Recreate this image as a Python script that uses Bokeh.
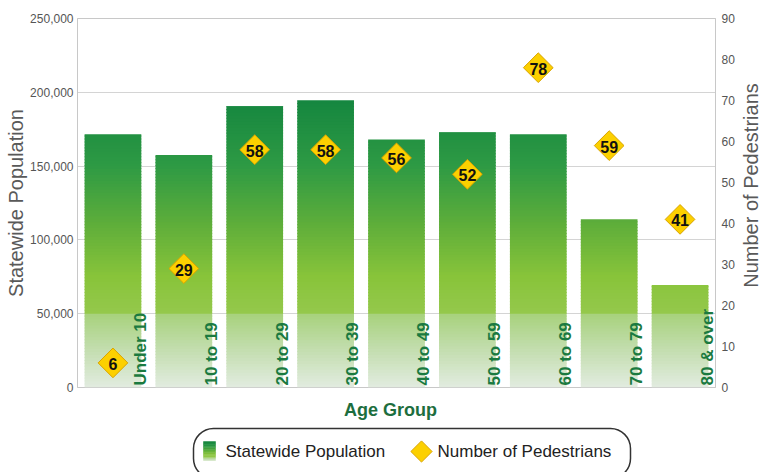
import numpy as np
from bokeh.plotting import figure
from bokeh.layouts import column, row
from bokeh.models import (ColumnDataSource, Range1d, LinearAxis, NumeralTickFormatter,
                          FixedTicker, FactorRange, Quad)
from bokeh.transform import dodge
from bokeh.core.properties import value
from bokeh.embed import file_html
from bokeh.resources import INLINE

# ---- data ----
age_groups = ["Under 10", "10 to 19", "20 to 29", "30 to 39", "40 to 49",
              "50 to 59", "60 to 69", "70 to 79", "80 & over"]
population = [171500, 157500, 190500, 194500, 168000, 173000, 171500, 114000, 69500]
pedestrians = [6, 29, 58, 58, 56, 52, 78, 59, 41]
pop_ticks = [0, 50000, 100000, 150000, 200000, 250000]
ped_ticks = [0, 10, 20, 30, 40, 50, 60, 70, 80, 90]
series_names = ["Statewide Population", "Number of Pedestrians"]
x_title = "Age Group"
left_title = "Statewide Population"
right_title = "Number of Pedestrians"

FONT = "Liberation Sans"
TOTAL_W, TOTAL_H = 761, 472
TITLE_W = 22
W = TOTAL_W - TITLE_W
H_MAIN = 397
H_LEG = TOTAL_H - H_MAIN

# ---- gradient (style) ----
stops_v = [0, 25000, 49000, 50000, 75000, 110000, 150000, 200000]
stops_c = ["#e2ece0", "#c4deb0", "#a8d27e", "#94c84c", "#88c43a", "#5fae3a", "#2e9a44", "#12843f"]


def hex2rgb(h):
    return np.array([int(h[i:i + 2], 16) for i in (1, 3, 5)], dtype=float)


stops_rgb = np.array([hex2rgb(c) for c in stops_c])


def grad_color(v):
    rgb = [np.interp(v, stops_v, stops_rgb[:, k]) for k in range(3)]
    return "#%02x%02x%02x" % tuple(int(round(x)) for x in rgb)


step = 2000
overlap = 700
seg = dict(cat=[], bottom=[], top=[], color=[])
for cat, pop in zip(age_groups, population):
    edges = list(np.arange(0, pop, step)) + [pop]
    for b, t in zip(edges[:-1], edges[1:]):
        mid = (b + t) / 2
        seg["cat"].append(cat)
        seg["bottom"].append(float(b))
        seg["top"].append(float(min(t + overlap, pop)))
        seg["color"].append(grad_color(mid))
seg_src = ColumnDataSource(seg)

src = ColumnDataSource(dict(cat=age_groups, pop=population, ped=pedestrians,
                            ped_lbl=[str(v) for v in pedestrians]))

p = figure(width=W, height=H_MAIN, output_backend="svg", toolbar_location=None,
           x_range=FactorRange(*age_groups), y_range=Range1d(0, 250000),
           min_border_top=18, min_border_left=77, min_border_right=24, min_border_bottom=10)
p.outline_line_color = "#c8c8c8"
p.xgrid.grid_line_color = None
p.ygrid.grid_line_color = "#d4d4d4"
p.ygrid.ticker = FixedTicker(ticks=pop_ticks)
p.xaxis.visible = False

p.extra_y_ranges = {"ped": Range1d(0, 90)}

p.vbar(x="cat", bottom="bottom", top="top", width=0.8, source=seg_src,
       fill_color="color", line_color=None)

# category labels inside bars
p.text(x=dodge("cat", 0.385, range=p.x_range), y=0, text="cat", source=src,
       angle=np.pi / 2, text_align="left", text_baseline="alphabetic", y_offset=-2,
       text_font=value(FONT), text_font_size="17px", text_font_style="bold",
       text_color="#1b7a40")

p.scatter(x="cat", y="ped", source=src, y_range_name="ped", marker="square",
          angle=np.pi / 4, size=21, fill_color="#fcd000", line_color="#d9a400",
          line_width=1)
p.text(x="cat", y="ped", text="ped_lbl", source=src, y_range_name="ped",
       text_align="center", text_baseline="middle", y_offset=1,
       text_font=value(FONT), text_font_size="16px", text_font_style="bold",
       text_color="#111111")

# left axis
ya = p.yaxis[0]
ya.ticker = FixedTicker(ticks=pop_ticks)
ya.formatter = NumeralTickFormatter(format="0,0")
ya.axis_label = left_title

ra = LinearAxis(y_range_name="ped", ticker=FixedTicker(ticks=ped_ticks))
p.add_layout(ra, "right")

for ax in (ya, ra):
    ax.axis_line_color = "#c8c8c8"
    ax.major_tick_line_color = None
    ax.major_tick_out = 0
    ax.major_tick_in = 0
    ax.minor_tick_line_color = None
    ax.minor_tick_out = 0
    ax.major_label_text_font = FONT
    ax.major_label_text_font_size = "12px"
    ax.major_label_text_color = "#555555"
    ax.major_label_standoff = 6
ya.major_label_standoff = 4
ya.axis_label_text_font = FONT
ya.axis_label_text_font_size = "20px"
ya.axis_label_text_font_style = "normal"
ya.axis_label_text_color = "#595959"
ya.axis_label_standoff = 0

# ---- bottom strip: x-axis title and legend (x in page pixels of the aligned frame) ----
lg = figure(width=W, height=H_LEG, output_backend="svg", toolbar_location=None,
            x_range=Range1d(77, 715), y_range=Range1d(0, H_LEG),
            min_border=0, x_axis_location=None, y_axis_location=None)
lg.outline_line_color = None
lg.xgrid.grid_line_color = None
lg.ygrid.grid_line_color = None

lg.text(x=[390], y=[TOTAL_H - 409], text=[x_title], text_align="center",
        text_baseline="middle", text_font=value(FONT), text_font_size="18px",
        text_font_style="bold", text_color="#1d6e3e")

box_kw = dict(left=193, right=630, top=TOTAL_H - 428, bottom=-6, fill_color=None,
              line_color="#333333", line_width=1.5)
if "border_radius" in Quad.properties():
    box_kw["border_radius"] = 20
lg.quad(**box_kw)

ly = TOTAL_H - 451
sw_n = 12
sw_edges = np.linspace(ly - 9, ly + 10, sw_n + 1)
sw_vals = np.linspace(20000, 190000, sw_n)
lg.quad(left=203, right=215, bottom=sw_edges[:-1], top=sw_edges[1:],
        fill_color=[grad_color(v) for v in sw_vals],
        line_color=[grad_color(v) for v in sw_vals], line_width=0.5)
lg.scatter(x=[421], y=[ly], marker="square", angle=np.pi / 4, size=15,
           fill_color="#fcd000", line_color="#d9a400", line_width=1)
lg.text(x=[225, 437], y=[ly, ly], text=series_names, text_baseline="middle",
        text_align="left", text_font=value(FONT), text_font_size="17px",
        text_color="#222222")

# ---- right-hand axis title strip (reads bottom to top) ----
tf = figure(width=TITLE_W, height=TOTAL_H, output_backend="svg", toolbar_location=None,
            x_range=Range1d(0, TITLE_W), y_range=Range1d(0, TOTAL_H),
            min_border=0, x_axis_location=None, y_axis_location=None)
tf.outline_line_color = None
tf.xgrid.grid_line_color = None
tf.ygrid.grid_line_color = None
tf.text(x=[TITLE_W / 2], y=[TOTAL_H - 185], text=[right_title], angle=np.pi / 2,
        text_align="center", text_baseline="middle", text_font=value(FONT),
        text_font_size="20px", text_color="#595959")

layout = row(column(p, lg, spacing=0), tf, spacing=0)
open("out.html", "w").write(file_html(layout, INLINE))
